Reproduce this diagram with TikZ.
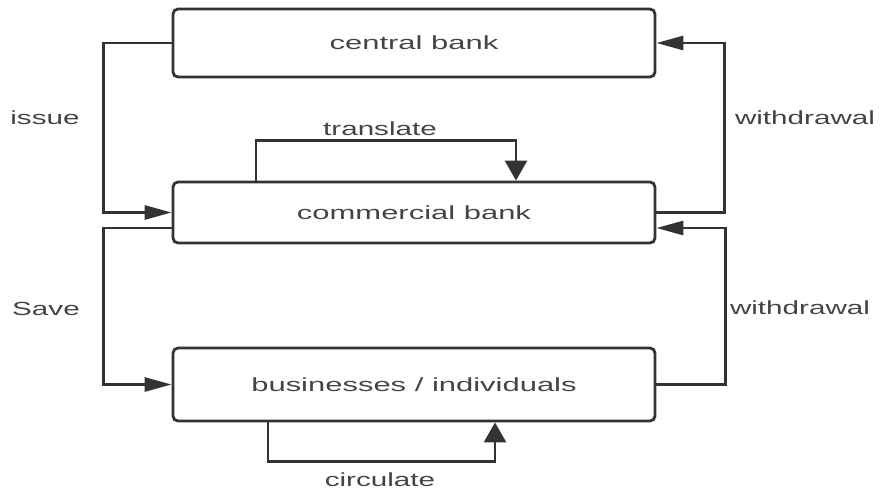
\documentclass[tikz,border=0pt]{standalone}
\usepackage{fontspec}
\setmainfont{Liberation Sans}
\usetikzlibrary{arrows.meta}
\definecolor{ln}{HTML}{333333}
\definecolor{tx}{HTML}{444444}
\newcommand{\wt}[1]{\scalebox{1.63}[1]{#1}}
\newcommand{\wl}[1]{\scalebox{1.56}[1]{#1}}
\begin{document}
\begin{tikzpicture}[x=1pt,y=-1pt,
  box/.style={draw=ln, line width=2.8pt, rounded corners=5pt, minimum width=482pt, inner sep=0pt, text=tx, font=\fontsize{19}{23}\selectfont},
  lbl/.style={text=tx, inner sep=0pt, font=\fontsize{19}{23}\selectfont},
  conn/.style={draw=ln, line width=2.8pt},
  harrow/.style={conn, -{Triangle[length=27pt,width=14pt]}},
  varrow/.style={conn, -{Triangle[length=20pt,width=22pt]}}]
\useasboundingbox (0,0) rectangle (882,490);
\node[box, minimum height=68pt] (cen) at (414,43) {\wt{central bank}};
\node[box, minimum height=61pt] (com) at (414,212.5) {\wt{commercial bank}};
\node[box, minimum height=73pt] (bus) at (414,384.5) {\wt{businesses / individuals}};
% issue
\draw[harrow] (cen.west) -- ++(-68,0) |- (com.west);
% translate
\draw[varrow] ([xshift=-158pt]com.north) -- ++(0,-40) -| ([xshift=102pt]com.north);
% withdrawal upper
\draw[harrow] (com.east) -- ++(68,0) |- (cen.east);
% withdrawal lower
\draw[harrow] (bus.east) -- ++(69,0) |- ([yshift=-15.5pt]com.east);
% save
\draw[harrow] ([yshift=-15.5pt]com.west) -- ++(-68,0) |- (bus.west);
% circulate
\draw[varrow] ([xshift=-146pt]bus.south) -- ++(0,39) -| ([xshift=81pt]bus.south);
% labels
\node[lbl] (lissue) at (45,118) {\wl{issue}};
\node[lbl] (lsave) at (46,309) {\wl{Save}};
\node[lbl] (ltrans) at (380,129) {\wl{translate}};
\node[lbl] (lw1) at (805,118) {\wl{withdrawal}};
\node[lbl] (lw2) at (800,308) {\wl{withdrawal}};
\node[lbl] (lcirc) at (380,480) {\wl{circulate}};
\end{tikzpicture}
\end{document}
